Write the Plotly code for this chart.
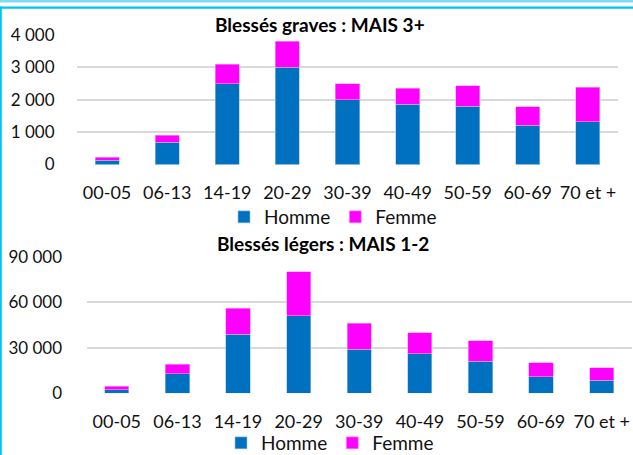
import plotly.graph_objects as go

categories = ["00-05", "06-13", "14-19", "20-29", "30-39", "40-49", "50-59", "60-69", "70 et +"]
graves_homme = [130, 690, 2500, 3000, 2000, 1860, 1800, 1210, 1320]
graves_femme = [90, 220, 600, 800, 500, 500, 640, 570, 1070]
legers_homme = [2500, 13000, 39000, 51000, 29000, 26000, 21000, 11000, 8500]
legers_femme = [2300, 6000, 17000, 29000, 17000, 14000, 13500, 9000, 8500]
title_top = "Blessés graves : MAIS 3+"
title_bottom = "Blessés légers : MAIS 1-2"
top_ticks = [0, 1000, 2000, 3000, 4000]
top_ticktext = ["0", "1 000", "2 000", "3 000", "4 000"]
bottom_ticks = [0, 30000, 60000, 90000]
bottom_ticktext = ["0", "30 000", "60 000", "90 000"]

W, H = 633, 455
BLUE = "#0070C0"
MAGENTA = "#FF00FF"
FONT = "Lato"
TXT = "#111111"

def px_x(p):
    return p / W

def px_y(p):
    return 1 - p / H

fig = go.Figure()
fig.add_trace(go.Bar(x=categories, y=graves_homme, name="Homme", marker=dict(color=BLUE, line=dict(width=0.6, color="#9cc3e8")),
                     xaxis="x", yaxis="y", legend="legend"))
fig.add_trace(go.Bar(x=categories, y=graves_femme, name="Femme", marker=dict(color=MAGENTA, line=dict(width=0.6, color="#ff9cff")),
                     xaxis="x", yaxis="y", legend="legend"))
fig.add_trace(go.Bar(x=categories, y=legers_homme, name="Homme", marker=dict(color=BLUE, line=dict(width=0.6, color="#9cc3e8")),
                     xaxis="x2", yaxis="y2", legend="legend2"))
fig.add_trace(go.Bar(x=categories, y=legers_femme, name="Femme", marker=dict(color=MAGENTA, line=dict(width=0.6, color="#ff9cff")),
                     xaxis="x2", yaxis="y2", legend="legend2"))

xfont = dict(family=FONT, size=18, color=TXT)
yfont = dict(family=FONT, size=17, color=TXT)

fig.update_layout(
    width=W, height=H,
    margin=dict(l=0, r=0, t=0, b=0, autoexpand=False),
    paper_bgcolor="white", plot_bgcolor="white",
    barmode="stack", bargap=0.6,
    font=dict(family=FONT, color=TXT),
    xaxis=dict(type="category", domain=[px_x(77), px_x(618)], anchor="y", showgrid=False, showline=False,
               zeroline=False, ticks="outside", ticklen=12, tickcolor="rgba(0,0,0,0)", tickfont=xfont),
    yaxis=dict(domain=[px_y(164.5), px_y(35)], anchor="x", range=[0, 4000], tickvals=top_ticks,
               ticktext=top_ticktext, showgrid=True, gridcolor="#d9d9d9", gridwidth=2, showline=False,
               zeroline=False, ticks="outside", ticklen=18, tickcolor="rgba(0,0,0,0)", tickfont=yfont),
    xaxis2=dict(type="category", domain=[px_x(86.5), px_x(632)], anchor="y2", showgrid=False, showline=False,
                zeroline=False, ticks="outside", ticklen=12, tickcolor="rgba(0,0,0,0)", tickfont=xfont),
    yaxis2=dict(domain=[px_y(393.3), px_y(256.7)], anchor="x2", range=[0, 90000], tickvals=bottom_ticks,
                ticktext=bottom_ticktext, showgrid=True, gridcolor="#d9d9d9", gridwidth=2, showline=False,
                zeroline=False, ticks="outside", ticklen=20, tickcolor="rgba(0,0,0,0)", tickfont=yfont),
    legend=dict(orientation="h", x=px_x(333), y=px_y(217), xanchor="center", yanchor="middle",
                traceorder="normal", font=dict(family=FONT, size=19, color=TXT), itemwidth=30,
                bgcolor="rgba(0,0,0,0)"),
    legend2=dict(orientation="h", x=px_x(330), y=px_y(443), xanchor="center", yanchor="middle",
                 traceorder="normal", font=dict(family=FONT, size=19, color=TXT), itemwidth=30,
                 bgcolor="rgba(0,0,0,0)"),
    annotations=[
        dict(text="<b>" + title_top + "</b>", x=px_x(320), y=px_y(24), xref="paper", yref="paper",
             showarrow=False, xanchor="center", yanchor="middle", font=dict(family=FONT, size=19, color="#000000")),
        dict(text="<b>" + title_bottom + "</b>", x=px_x(323), y=px_y(243), xref="paper", yref="paper",
             showarrow=False, xanchor="center", yanchor="middle", font=dict(family=FONT, size=19, color="#000000")),
    ],
    shapes=[
        dict(type="rect", xref="paper", yref="paper", x0=0, x1=1, y0=px_y(2.5), y1=1,
             fillcolor="#80daf3", line=dict(width=0), layer="above"),
        dict(type="rect", xref="paper", yref="paper", x0=0, x1=1, y0=px_y(8.7), y1=px_y(6.5),
             fillcolor="#00c4f2", line=dict(width=0), layer="above"),
        dict(type="rect", xref="paper", yref="paper", x0=0, x1=px_x(1.8), y0=0, y1=px_y(6.5),
             fillcolor="#00c4f2", line=dict(width=0), layer="above"),
    ],
    showlegend=True,
)

fig.write_html("out.html", config={"displayModeBar": False},
               post_script="document.body.style.margin='0';document.body.style.overflow='hidden';")
